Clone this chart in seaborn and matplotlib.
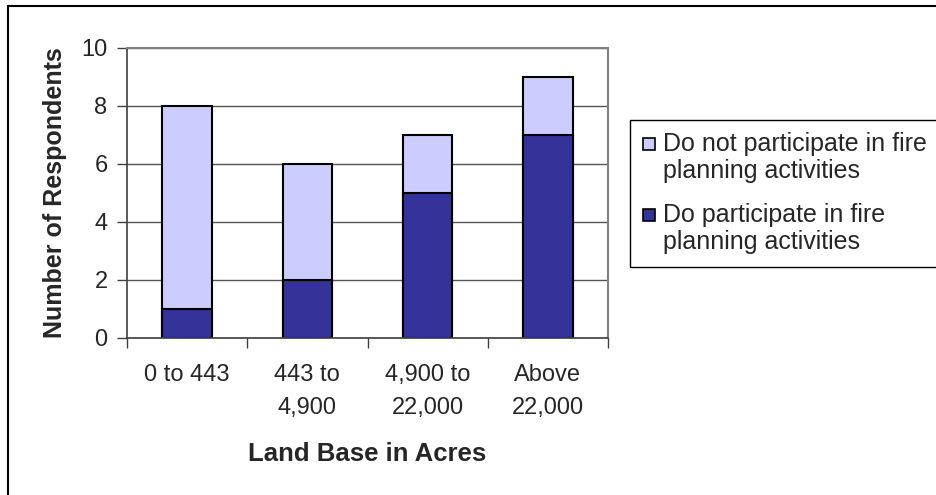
import matplotlib
matplotlib.use("Agg")
import matplotlib.pyplot as plt
import seaborn as sns
import pandas as pd
from matplotlib.patches import Rectangle, Patch
from matplotlib.legend_handler import HandlerPatch

categories = ["0 to 443", "443 to\n4,900", "4,900 to\n22,000", "Above\n22,000"]
participate = [1, 2, 5, 7]
not_participate = [7, 4, 2, 2]
series_labels = ["Do not participate in fire\nplanning activities",
                 "Do participate in fire\nplanning activities"]
yticks = [0, 2, 4, 6, 8, 10]

light = "#CCCCFF"
dark = "#333399"

sns.set_theme(style="white")
plt.rcParams['font.family'] = ['Liberation Sans', 'DejaVu Sans']

df = pd.DataFrame({
    "cat": categories,
    "part": participate,
    "total": [p + n for p, n in zip(participate, not_participate)],
})

W, H = 937, 495
fig = plt.figure(figsize=(W / 100, H / 100), dpi=100)
ax = fig.add_axes([127 / W, 1 - 338 / H, (608 - 127) / W, (338 - 48) / H])

ax.set_axisbelow(True)
ax.yaxis.grid(True, color="#555555", linewidth=1.0)
ax.xaxis.grid(False)

sns.barplot(data=df, x="cat", y="total", color=light, saturation=1, width=0.41,
            edgecolor="black", linewidth=1.5, ax=ax)
sns.barplot(data=df, x="cat", y="part", color=dark, saturation=1, width=0.41,
            edgecolor="black", linewidth=1.5, ax=ax)

ax.set_ylim(0, 10)
ax.set_yticks(yticks)
ax.set_xlim(-0.5, 3.5)
ax.set_xticks([-0.5, 0.5, 1.5, 2.5, 3.5], minor=False)
ax.set_xticklabels([])
ax.set_xticks([0, 1, 2, 3], minor=True)
ax.set_xticklabels(categories, minor=True, fontsize=17, linespacing=1.6)
ax.tick_params(axis="x", which="major", direction="out", length=7, width=1, color="#404040", bottom=True)
ax.tick_params(axis="x", which="minor", length=0, pad=19, bottom=True)
ax.tick_params(axis="y", direction="out", length=7, width=1, color="#404040", labelsize=17, pad=7, left=True)

for s in ["top", "right"]:
    ax.spines[s].set_color("#808080")
    ax.spines[s].set_linewidth(1.5)
for s in ["left", "bottom"]:
    ax.spines[s].set_color("#404040")
    ax.spines[s].set_linewidth(1.2)

ax.set_xlabel("Land Base in Acres", fontsize=18.5, fontweight="bold", labelpad=17)
ax.set_ylabel("Number of Respondents", fontsize=18, fontweight="bold", labelpad=10)


def square_patch(legend, orig_handle, xdescent, ydescent, width, height, fontsize):
    side = 8.6
    return Rectangle((-xdescent + 0.5, -ydescent + 11.5), side, side)


handles = [Patch(facecolor=light, edgecolor="black", linewidth=1.2),
           Patch(facecolor=dark, edgecolor="black", linewidth=1.2)]
leg = fig.legend(handles, series_labels, loc="upper left",
                 bbox_to_anchor=(630 / W, 1 - 120 / H), fontsize=18,
                 frameon=False,
                 handlelength=0.5, handleheight=0.5, handletextpad=0.32,
                 borderpad=0.5, labelspacing=0.8, borderaxespad=0,
                 handler_map={Patch: HandlerPatch(patch_func=square_patch)})
for t in leg.get_texts():
    t.set_linespacing(1.15)

fig.canvas.draw()
bb = leg.get_window_extent().transformed(fig.transFigure.inverted())
fig.patches.append(Rectangle((630 / W, bb.y0), 0.5, bb.y1 - bb.y0,
                             transform=fig.transFigure, fill=False,
                             edgecolor="black", linewidth=1.0, zorder=9))

fig.patches.append(Rectangle((8 / W, -0.05), 1.1, 1 - 6 / H + 0.05,
                             transform=fig.transFigure, fill=False,
                             edgecolor="black", linewidth=1.5, zorder=10))

fig.savefig("out.png", dpi=100, facecolor="white")
